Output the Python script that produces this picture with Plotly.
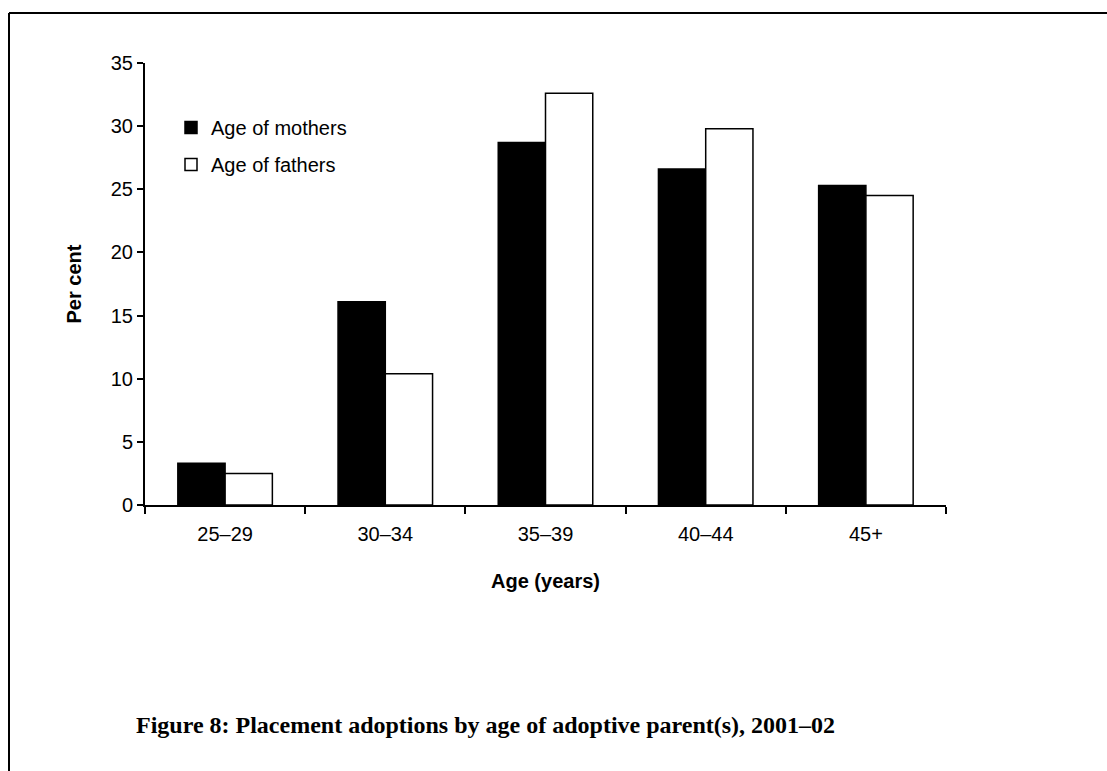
import plotly.graph_objects as go

categories = ["25–29", "30–34", "35–39", "40–44", "45+"]
mothers = [3.3, 16.1, 28.7, 26.6, 25.3]
fathers = [2.5, 10.4, 32.6, 29.8, 24.5]
series_names = ["Age of mothers", "Age of fathers"]
y_ticks = [0, 5, 10, 15, 20, 25, 30, 35]

W, H = 1107, 771
L, R, T, B = 145, 1107 - 946, 63, 771 - 505
pw, ph = W - L - R, H - T - B

def px(x):
    return (x - L) / pw

def py(y):
    return (H - B - y) / ph

fig = go.Figure()
fig.add_trace(go.Bar(x=categories, y=mothers, name=series_names[0], legendgroup="m",
                     marker=dict(color="black", line=dict(color="black", width=1.5))))
fig.add_trace(go.Bar(x=categories, y=fathers, name=series_names[1], legendgroup="f",
                     marker=dict(color="white", line=dict(color="black", width=1.5))))

font_sans = "Liberation Sans, Arial, sans-serif"
fig.update_layout(
    width=W, height=H,
    margin=dict(l=L, r=R, t=T, b=B, autoexpand=False),
    paper_bgcolor="white", plot_bgcolor="white",
    barmode="group", bargap=0.41, bargroupgap=0,
    font=dict(family=font_sans, size=20, color="black"),
    showlegend=True,
    legend=dict(x=px(171), y=py(108), xanchor="left", yanchor="top",
                bgcolor="rgba(0,0,0,0)", font=dict(size=20, family=font_sans),
                traceorder="grouped", tracegroupgap=8),
    xaxis=dict(
        showline=True, linecolor="black", linewidth=2,
        ticks="outside", ticklen=7, tickwidth=2, tickcolor="black",
        tickson="boundaries", showgrid=False, zeroline=False,
        tickfont=dict(size=20), ticklabelstandoff=10,
        title=dict(text="<b>Age (years)</b>", font=dict(size=20), standoff=30),
    ),
    yaxis=dict(
        range=[0, 35], tickvals=y_ticks,
        showline=True, linecolor="black", linewidth=2,
        ticks="outside", ticklen=6, tickwidth=2, tickcolor="black",
        showgrid=False, zeroline=False,
        tickfont=dict(size=20),
        title=dict(text="<b>Per cent</b>", font=dict(size=20), standoff=24),
    ),
)

# Page frame (left and top edges visible)
fig.add_shape(type="line", xref="paper", yref="paper",
              x0=px(9), y0=py(13), x1=px(1120), y1=py(13),
              line=dict(color="black", width=2))
fig.add_shape(type="line", xref="paper", yref="paper",
              x0=px(9), y0=py(13), x1=px(9), y1=py(790),
              line=dict(color="black", width=2))

fig.add_annotation(
    text="<b>Figure 8: Placement adoptions by age of adoptive parent(s), 2001–02</b>",
    xref="paper", yref="paper", x=px(134), y=py(725),
    xanchor="left", yanchor="middle", showarrow=False,
    font=dict(family="Liberation Serif, serif", size=24, color="black"),
)

fig.write_html("out.html", config={"displayModeBar": False},
               post_script="document.body.style.margin='0';")
